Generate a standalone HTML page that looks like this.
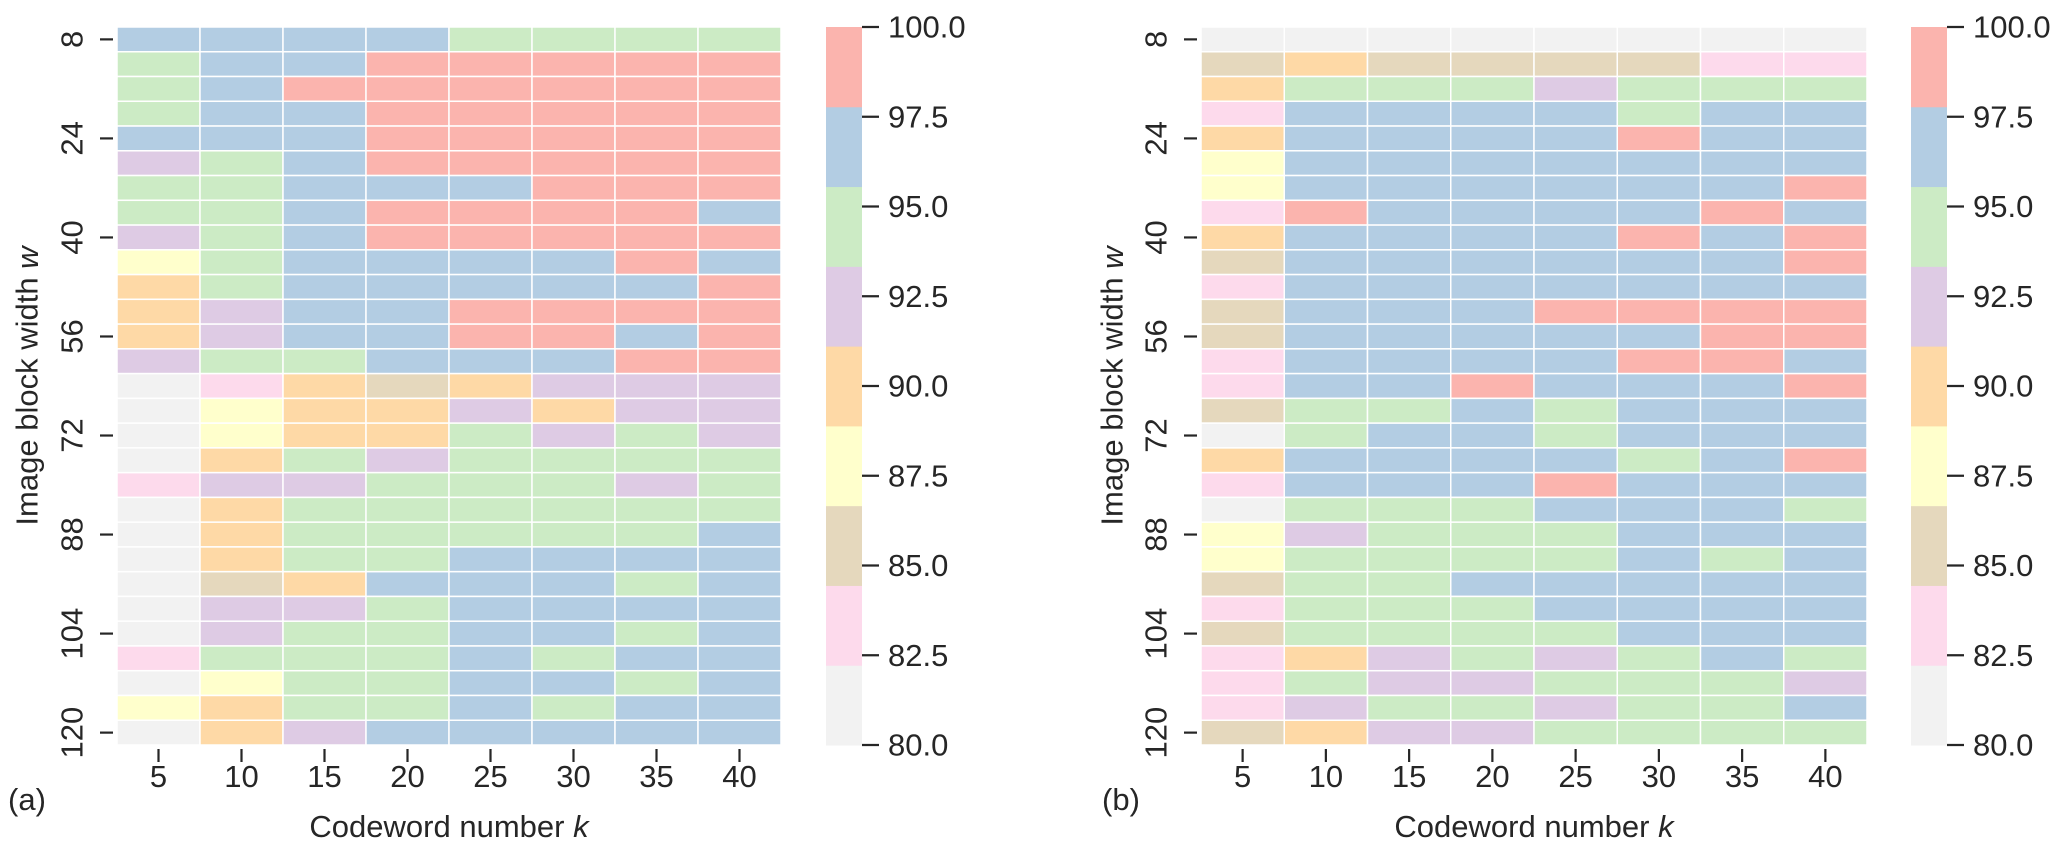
<!DOCTYPE html>
<html><head><meta charset="utf-8"><style>
html,body{margin:0;padding:0;background:#fff;}
svg text{font-family:"Liberation Sans",Arial,sans-serif;fill:#262626;}
</style></head>
<body>
<svg id="fig" width="2067" height="853" viewBox="0 0 2067 853" xmlns="http://www.w3.org/2000/svg">
</svg>
<script>
const kLabels = [5,10,15,20,25,30,35,40];
const wLabels = [8,24,40,56,72,88,104,120];
const cbTicks = [100.0,97.5,95.0,92.5,90.0,87.5,85.0,82.5,80.0];
const rowsW = [8,12,16,20,24,28,32,36,40,44,48,52,56,60,64,68,72,76,80,84,88,92,96,100,104,108,112,116,120];
// values (%) for panel (a): rows = w, cols = k
const valuesA = [
[96.7,96.7,96.7,96.7,94.4,94.4,94.4,94.4],
[94.4,96.7,96.7,98.9,98.9,98.9,98.9,98.9],
[94.4,96.7,98.9,98.9,98.9,98.9,98.9,98.9],
[94.4,96.7,96.7,98.9,98.9,98.9,98.9,98.9],
[96.7,96.7,96.7,98.9,98.9,98.9,98.9,98.9],
[92.2,94.4,96.7,98.9,98.9,98.9,98.9,98.9],
[94.4,94.4,96.7,96.7,96.7,98.9,98.9,98.9],
[94.4,94.4,96.7,98.9,98.9,98.9,98.9,96.7],
[92.2,94.4,96.7,98.9,98.9,98.9,98.9,98.9],
[87.8,94.4,96.7,96.7,96.7,96.7,98.9,96.7],
[90.0,94.4,96.7,96.7,96.7,96.7,96.7,98.9],
[90.0,92.2,96.7,96.7,98.9,98.9,98.9,98.9],
[90.0,92.2,96.7,96.7,98.9,98.9,96.7,98.9],
[92.2,94.4,94.4,96.7,96.7,96.7,98.9,98.9],
[81.1,83.3,90.0,85.6,90.0,92.2,92.2,92.2],
[81.1,87.8,90.0,90.0,92.2,90.0,92.2,92.2],
[81.1,87.8,90.0,90.0,94.4,92.2,94.4,92.2],
[81.1,90.0,94.4,92.2,94.4,94.4,94.4,94.4],
[83.3,92.2,92.2,94.4,94.4,94.4,92.2,94.4],
[81.1,90.0,94.4,94.4,94.4,94.4,94.4,94.4],
[81.1,90.0,94.4,94.4,94.4,94.4,94.4,96.7],
[81.1,90.0,94.4,94.4,96.7,96.7,96.7,96.7],
[81.1,85.6,90.0,96.7,96.7,96.7,94.4,96.7],
[81.1,92.2,92.2,94.4,96.7,96.7,96.7,96.7],
[81.1,92.2,94.4,94.4,96.7,96.7,94.4,96.7],
[83.3,94.4,94.4,94.4,96.7,94.4,96.7,96.7],
[81.1,87.8,94.4,94.4,96.7,96.7,94.4,96.7],
[87.8,90.0,94.4,94.4,96.7,94.4,96.7,96.7],
[81.1,90.0,92.2,96.7,96.7,96.7,96.7,96.7]
];
// values (%) for panel (b)
const valuesB = [
[81.1,81.1,81.1,81.1,81.1,81.1,81.1,81.1],
[85.6,90.0,85.6,85.6,85.6,85.6,83.3,83.3],
[90.0,94.4,94.4,94.4,92.2,94.4,94.4,94.4],
[83.3,96.7,96.7,96.7,96.7,94.4,96.7,96.7],
[90.0,96.7,96.7,96.7,96.7,98.9,96.7,96.7],
[87.8,96.7,96.7,96.7,96.7,96.7,96.7,96.7],
[87.8,96.7,96.7,96.7,96.7,96.7,96.7,98.9],
[83.3,98.9,96.7,96.7,96.7,96.7,98.9,96.7],
[90.0,96.7,96.7,96.7,96.7,98.9,96.7,98.9],
[85.6,96.7,96.7,96.7,96.7,96.7,96.7,98.9],
[83.3,96.7,96.7,96.7,96.7,96.7,96.7,96.7],
[85.6,96.7,96.7,96.7,98.9,98.9,98.9,98.9],
[85.6,96.7,96.7,96.7,96.7,96.7,98.9,98.9],
[83.3,96.7,96.7,96.7,96.7,98.9,98.9,96.7],
[83.3,96.7,96.7,98.9,96.7,96.7,96.7,98.9],
[85.6,94.4,94.4,96.7,94.4,96.7,96.7,96.7],
[81.1,94.4,96.7,96.7,94.4,96.7,96.7,96.7],
[90.0,96.7,96.7,96.7,96.7,94.4,96.7,98.9],
[83.3,96.7,96.7,96.7,98.9,96.7,96.7,96.7],
[81.1,94.4,94.4,94.4,96.7,96.7,96.7,94.4],
[87.8,92.2,94.4,94.4,94.4,96.7,96.7,96.7],
[87.8,94.4,94.4,94.4,94.4,96.7,94.4,96.7],
[85.6,94.4,94.4,96.7,96.7,96.7,96.7,96.7],
[83.3,94.4,94.4,94.4,96.7,96.7,96.7,96.7],
[85.6,94.4,94.4,94.4,94.4,96.7,96.7,96.7],
[83.3,90.0,92.2,94.4,92.2,94.4,96.7,94.4],
[83.3,94.4,92.2,92.2,94.4,94.4,94.4,92.2],
[83.3,92.2,94.4,94.4,92.2,94.4,94.4,96.7],
[85.6,90.0,92.2,92.2,94.4,94.4,94.4,94.4]
];
const palette = ["#f2f2f2","#fddaec","#e5d8bd","#ffffcc","#fed9a6","#decbe4","#ccebc5","#b3cde3","#fbb4ae"];
const vmin = 80, vmax = 100;
function colorOf(v){let i=Math.floor((v-vmin)/((vmax-vmin)/palette.length));i=Math.max(0,Math.min(palette.length-1,i));return palette[i];}

const NS="http://www.w3.org/2000/svg";
const svg=document.getElementById('fig');
function mk(tag,attrs,parent){const e=document.createElementNS(NS,tag);for(const k in attrs)e.setAttribute(k,attrs[k]);(parent||svg).appendChild(e);return e;}

function panel(values, x0, y0, W, H, cbx, letter, lx, ylx, yttx){
  const g=mk('g',{});
  
  
  const nr=values.length, nc=kLabels.length;
  const cw=W/nc, rh=H/nr;
  const xScale=j=>x0+j*cw, yScale=i=>y0+i*rh;
  values.forEach((row,i)=>row.forEach((v,j)=>{
    const r=mk('rect',{x:xScale(j),y:yScale(i),width:cw,height:rh,fill:colorOf(v),stroke:'#fff','stroke-width':1.5},g);
    
    
  }));
  kLabels.forEach((k,j)=>{
    const cx=xScale(j)+cw/2;
    mk('line',{x1:cx,x2:cx,y1:y0+H+4,y2:y0+H+17,stroke:'#262626','stroke-width':2.2},g);
    const t=mk('text',{x:cx,y:y0+H+42,'font-size':31,'text-anchor':'middle'},g);
    t.textContent=k;
    
    
  });
  wLabels.forEach(w=>{
    const i=rowsW.indexOf(w);
    const cy=yScale(i)+rh/2;
    mk('line',{x1:x0-17,x2:x0-4,y1:cy,y2:cy,stroke:'#262626','stroke-width':2.2},g);
    const t=mk('text',{x:yttx,y:cy,'font-size':31,'text-anchor':'middle',transform:'rotate(-90 '+yttx+' '+cy+')','dominant-baseline':'central'},g);
    t.textContent=w;
    
    
  });
  const xl=mk('text',{x:x0+W/2,y:837,'font-size':31,'text-anchor':'middle'},g);
  xl.innerHTML='Codeword number <tspan font-style="italic">k</tspan>';
  
  
  const yc=y0+H/2;
  const yl=mk('text',{x:ylx,y:yc,'font-size':31,'text-anchor':'middle','dominant-baseline':'central',transform:'rotate(-90 '+ylx+' '+yc+')'},g);
  yl.innerHTML='Image block width <tspan font-style="italic">w</tspan>';
  
  
  const pl=mk('text',{x:lx,y:810,'font-size':31},g);
  pl.textContent='('+letter+')';
  
  
  const cb=mk('g',{},g);
  
  
  const cbw=36, n=palette.length, bh=H/n;
  const cbY=v=>y0+(vmax-v)/(vmax-vmin)*H;
  palette.forEach((c,i)=>{
    const r=mk('rect',{x:cbx,y:y0+H-(i+1)*bh,width:cbw,height:bh+0.5,fill:c},cb);
    
    
  });
  cbTicks.forEach(v=>{
    const y=cbY(v);
    mk('line',{x1:cbx+cbw,x2:cbx+cbw+17,y1:y,y2:y,stroke:'#262626','stroke-width':2.2},cb);
    const t=mk('text',{x:cbx+cbw+26,y:y,'font-size':31,'dominant-baseline':'central'},cb);
    t.textContent=v.toFixed(1);
    
    
  });
}
panel(valuesA,117,27,664,718,826,'a',8,27,72);
panel(valuesB,1201,27,666,718,1911,'b',1102,1112,1156);
</script>
</body></html>
